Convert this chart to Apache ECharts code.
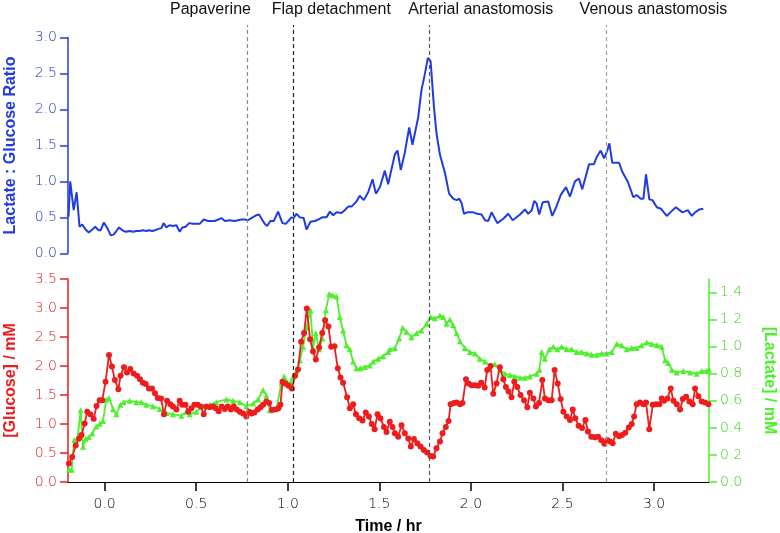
<!DOCTYPE html>
<html>
<head>
<meta charset="utf-8">
<script src="https://cdn.jsdelivr.net/npm/echarts@6/dist/echarts.min.js"></script>
<style>html,body{margin:0;padding:0;background:#fff}#c{width:780px;height:533px}</style>
</head>
<body>
<div id="c"></div>
<script>
// ---- data (time in hours) ----
const ratioTime = [-0.197,-0.188,-0.169,-0.153,-0.137,-0.122,-0.104,-0.087,-0.067,-0.051,-0.033,-0.022,-0.004,0.015,0.033,0.049,0.064,0.078,0.097,0.115,0.137,0.155,0.173,0.191,0.209,0.228,0.242,0.260,0.275,0.293,0.310,0.322,0.337,0.355,0.373,0.392,0.410,0.424,0.443,0.461,0.483,0.519,0.541,0.565,0.601,0.638,0.656,0.683,0.710,0.747,0.765,0.783,0.801,0.829,0.843,0.862,0.874,0.887,0.905,0.924,0.947,0.971,0.989,1.007,1.020,1.033,1.047,1.066,1.087,1.102,1.124,1.148,1.166,1.188,1.211,1.230,1.248,1.266,1.293,1.311,1.330,1.348,1.375,1.393,1.415,1.439,1.463,1.481,1.503,1.530,1.548,1.585,1.599,1.617,1.639,1.663,1.681,1.712,1.730,1.749,1.765,1.780,1.798,1.812,1.831,1.858,1.881,1.903,1.922,1.936,1.949,1.962,1.980,2.013,2.034,2.058,2.077,2.095,2.113,2.144,2.177,2.204,2.228,2.268,2.295,2.313,2.332,2.346,2.359,2.373,2.392,2.422,2.444,2.464,2.490,2.519,2.541,2.568,2.590,2.608,2.645,2.672,2.687,2.709,2.727,2.742,2.756,2.772,2.809,2.827,2.856,2.887,2.905,2.927,2.942,2.956,2.974,2.991,3.015,3.037,3.069,3.093,3.119,3.155,3.184,3.206,3.224,3.248,3.269];
const ratioValue = [0.51,1.00,0.60,0.85,0.37,0.40,0.33,0.29,0.33,0.37,0.32,0.32,0.43,0.35,0.25,0.26,0.31,0.36,0.32,0.30,0.31,0.30,0.31,0.31,0.32,0.31,0.32,0.31,0.32,0.34,0.35,0.42,0.36,0.39,0.38,0.39,0.30,0.36,0.37,0.42,0.41,0.41,0.47,0.45,0.45,0.49,0.45,0.46,0.45,0.47,0.47,0.46,0.49,0.53,0.54,0.46,0.41,0.38,0.45,0.45,0.58,0.42,0.41,0.46,0.50,0.49,0.55,0.50,0.49,0.33,0.44,0.45,0.47,0.50,0.50,0.58,0.53,0.57,0.56,0.60,0.65,0.65,0.72,0.80,0.74,0.85,1.03,0.83,0.92,1.15,0.96,1.38,1.43,1.16,1.40,1.75,1.51,1.89,2.27,2.50,2.72,2.67,2.04,1.67,1.37,1.12,0.83,0.76,0.74,0.76,0.70,0.55,0.57,0.57,0.55,0.54,0.46,0.45,0.57,0.42,0.48,0.55,0.46,0.54,0.61,0.55,0.60,0.73,0.69,0.54,0.71,0.72,0.52,0.63,0.81,0.92,0.79,1.00,1.04,0.89,1.24,1.24,1.34,1.43,1.32,1.41,1.53,1.26,1.26,1.13,1.00,0.78,0.81,0.76,0.76,1.10,0.75,0.74,0.64,0.62,0.52,0.58,0.64,0.57,0.60,0.52,0.57,0.61,0.62];

const glucoseTime = [-0.195,-0.177,-0.158,-0.140,-0.126,-0.109,-0.095,-0.078,-0.060,-0.044,-0.027,-0.013,0.005,0.024,0.040,0.056,0.075,0.087,0.106,0.122,0.140,0.158,0.177,0.193,0.209,0.224,0.242,0.259,0.275,0.290,0.308,0.324,0.341,0.359,0.373,0.392,0.410,0.424,0.441,0.457,0.474,0.490,0.508,0.525,0.541,0.556,0.574,0.592,0.607,0.623,0.639,0.656,0.672,0.689,0.705,0.721,0.738,0.756,0.774,0.789,0.803,0.818,0.836,0.851,0.865,0.883,0.898,0.913,0.931,0.949,0.960,0.971,0.987,1.004,1.022,1.040,1.056,1.073,1.089,1.104,1.122,1.138,1.153,1.171,1.188,1.204,1.222,1.237,1.255,1.273,1.288,1.302,1.324,1.339,1.357,1.372,1.390,1.408,1.426,1.443,1.459,1.474,1.490,1.506,1.525,1.539,1.557,1.572,1.585,1.603,1.621,1.639,1.658,1.672,1.689,1.707,1.725,1.743,1.761,1.780,1.794,1.812,1.831,1.845,1.863,1.878,1.889,1.907,1.922,1.940,1.954,1.973,1.987,2.004,2.022,2.040,2.056,2.075,2.089,2.107,2.122,2.140,2.158,2.177,2.191,2.206,2.222,2.237,2.253,2.271,2.290,2.308,2.322,2.341,2.355,2.372,2.390,2.404,2.423,2.441,2.457,2.474,2.490,2.505,2.523,2.541,2.556,2.570,2.588,2.607,2.625,2.639,2.657,2.676,2.694,2.712,2.729,2.745,2.760,2.774,2.791,2.809,2.825,2.843,2.862,2.878,2.891,2.905,2.923,2.942,2.956,2.974,2.993,3.011,3.029,3.042,3.055,3.073,3.091,3.106,3.124,3.142,3.157,3.175,3.193,3.211,3.224,3.242,3.260,3.279,3.297];
const glucoseValue = [0.32,0.43,0.63,0.75,0.81,1.01,1.21,1.17,1.09,1.31,1.41,1.41,1.73,2.19,1.99,1.76,1.60,1.83,1.98,1.89,1.95,1.87,1.83,1.77,1.71,1.69,1.61,1.61,1.53,1.45,1.44,1.17,1.40,1.34,1.30,1.25,1.40,1.33,1.33,1.21,1.27,1.33,1.33,1.30,1.17,1.30,1.29,1.30,1.27,1.22,1.30,1.26,1.30,1.25,1.30,1.25,1.21,1.18,1.13,1.21,1.18,1.20,1.25,1.29,1.33,1.39,1.36,1.24,1.25,1.27,1.33,1.73,1.70,1.66,1.61,1.83,1.94,2.42,2.57,2.99,2.46,2.25,2.11,2.32,2.57,2.79,2.68,2.33,2.34,1.96,1.80,1.71,1.46,1.27,1.34,1.17,1.10,1.06,1.20,1.13,1.00,0.91,1.17,1.10,0.95,0.86,1.04,0.95,0.84,0.78,0.98,0.84,0.75,0.61,0.74,0.67,0.61,0.55,0.51,0.45,0.44,0.58,0.70,0.84,0.95,1.05,1.34,1.36,1.37,1.34,1.36,1.77,1.70,1.67,1.67,1.66,1.71,1.63,1.93,2.00,1.52,1.70,1.98,1.77,1.64,1.56,1.46,1.73,1.64,1.50,1.41,1.29,1.54,1.44,1.30,1.36,1.76,1.44,1.41,1.41,1.93,1.70,1.43,1.21,1.13,1.07,1.25,1.10,0.97,0.93,1.07,0.87,0.78,0.77,0.78,0.72,0.66,0.72,0.70,0.67,0.83,0.79,0.81,0.85,0.94,1.00,1.13,1.34,1.37,1.34,1.37,0.91,1.33,1.34,1.34,1.44,1.40,1.44,1.61,1.40,1.34,1.25,1.43,1.47,1.39,1.34,1.61,1.48,1.39,1.37,1.34];

const lactateTime = [-0.195,-0.180,-0.166,-0.148,-0.131,-0.118,-0.104,-0.086,-0.067,-0.046,-0.027,-0.009,0.009,0.024,0.046,0.064,0.086,0.104,0.137,0.173,0.200,0.228,0.264,0.301,0.337,0.373,0.419,0.446,0.464,0.501,0.537,0.574,0.610,0.665,0.701,0.738,0.774,0.811,0.838,0.865,0.883,0.902,0.938,0.965,0.980,0.996,1.015,1.029,1.047,1.066,1.084,1.102,1.124,1.138,1.153,1.171,1.189,1.208,1.226,1.244,1.266,1.284,1.302,1.321,1.339,1.357,1.375,1.397,1.421,1.448,1.466,1.494,1.521,1.548,1.557,1.585,1.608,1.627,1.648,1.676,1.703,1.730,1.758,1.780,1.803,1.831,1.849,1.867,1.885,1.903,1.922,1.940,1.967,1.995,2.022,2.049,2.077,2.104,2.131,2.158,2.186,2.213,2.240,2.268,2.295,2.322,2.359,2.374,2.386,2.404,2.428,2.450,2.472,2.495,2.523,2.550,2.577,2.605,2.632,2.659,2.687,2.714,2.741,2.769,2.796,2.823,2.851,2.878,2.905,2.932,2.960,2.987,3.015,3.042,3.060,3.078,3.097,3.124,3.160,3.197,3.233,3.260,3.288,3.300];
const lactateValue = [0.09,0.09,0.31,0.32,0.53,0.26,0.32,0.33,0.36,0.41,0.43,0.45,0.61,0.62,0.54,0.50,0.57,0.59,0.60,0.59,0.59,0.57,0.56,0.54,0.51,0.50,0.49,0.52,0.50,0.52,0.56,0.57,0.59,0.61,0.60,0.59,0.56,0.58,0.61,0.68,0.64,0.53,0.54,0.73,0.78,0.74,0.73,0.78,0.82,0.90,1.00,1.14,1.27,0.99,1.10,0.98,1.06,1.27,1.39,1.38,1.37,1.22,1.12,1.01,0.98,0.89,0.84,0.84,0.85,0.86,0.89,0.91,0.93,0.96,0.98,0.99,1.06,1.14,1.11,1.07,1.10,1.12,1.17,1.22,1.21,1.23,1.22,1.17,1.20,1.16,1.10,1.04,0.99,0.96,0.95,0.91,0.89,0.86,0.87,0.83,0.80,0.79,0.78,0.77,0.77,0.78,0.80,0.83,0.96,0.91,0.98,1.00,0.98,1.00,0.98,0.98,0.96,0.96,0.95,0.94,0.94,0.95,0.95,0.96,1.02,1.01,0.98,0.99,0.99,1.01,1.03,1.02,1.01,1.00,0.90,0.88,0.83,0.81,0.82,0.81,0.80,0.82,0.82,0.83];

const eventTimes = [0.776, 1.034, 1.768, 2.738];
const eventLabels = ['Papaverine', 'Flap detachment', 'Arterial anastomosis', 'Venous anastomosis'];
const eventColors = ['#888888', '#222222', '#555555', '#a0a0a0'];
const eventLabelShift = [-37, 38, 52, 47];

const xTicks = [0, 0.5, 1, 1.5, 2, 2.5, 3];
const lactateTicks = [0, 0.2, 0.4, 0.6, 0.8, 1.0, 1.2, 1.4];

// ---- chart ----
const BLUE = '#1f3be3', BLUE_T = '#1a30cc';
const RED = '#ee1c1c', RED_T = '#d81c1c';
const GREEN = '#4cf02c', GREEN_T = '#3cd022';
const tickFont = {fontFamily: 'DejaVu Sans', fontSize: 14, fontWeight: 200};
const nameFont = {fontFamily: 'Liberation Sans', fontSize: 16, fontWeight: 'bold'};
const zip = (a, b) => a.map((t, i) => [t, b[i]]);
const fmt1 = v => v.toFixed(1);

const chart = echarts.init(document.getElementById('c'), null, {renderer: 'canvas'});
chart.setOption({
  animation: false,
  backgroundColor: '#fff',
  grid: [
    {left: 68, right: 71, top: 37.7, height: 215.6, outerBoundsMode: 'none', containLabel: false},
    {left: 68, right: 71, top: 279, height: 203, outerBoundsMode: 'none', containLabel: false},
    {left: 68, right: 71, top: 25, height: 457, outerBoundsMode: 'none', containLabel: false}
  ],
  xAxis: [
    {gridIndex: 0, type: 'value', min: -0.2, max: 3.3, show: false},
    {gridIndex: 1, type: 'value', min: -0.2, max: 3.3,
     axisLine: {onZero: false, lineStyle: {color: '#000', width: 1}},
     axisTick: {customValues: xTicks, length: 9, lineStyle: {color: '#000', width: 1.5}},
     axisLabel: Object.assign({customValues: xTicks, formatter: fmt1, color: '#000', margin: 15}, tickFont),
     splitLine: {show: false},
     name: 'Time / hr', nameLocation: 'middle', nameGap: 37,
     nameTextStyle: Object.assign({color: '#000'}, nameFont)},
    {gridIndex: 2, type: 'value', min: -0.2, max: 3.3, show: false}
  ],
  yAxis: [
    {gridIndex: 0, type: 'value', min: 0, max: 3, interval: 0.5,
     axisLine: {show: true, onZero: false, lineStyle: {color: BLUE, width: 1.5}},
     axisTick: {show: true, length: 8, lineStyle: {color: BLUE, width: 1.5}},
     axisLabel: Object.assign({formatter: fmt1, color: BLUE_T, margin: 11}, tickFont),
     splitLine: {show: false},
     name: 'Lactate : Glucose Ratio', nameLocation: 'middle', nameGap: 49,
     nameTextStyle: Object.assign({color: BLUE}, nameFont)},
    {gridIndex: 1, type: 'value', min: 0, max: 3.5, interval: 0.5,
     axisLine: {show: true, onZero: false, lineStyle: {color: RED, width: 1.5}},
     axisTick: {show: true, length: 8, lineStyle: {color: RED, width: 1.5}},
     axisLabel: Object.assign({formatter: fmt1, color: RED_T, margin: 11}, tickFont),
     splitLine: {show: false},
     name: '[Glucose] / mM', nameLocation: 'middle', nameGap: 49,
     nameTextStyle: Object.assign({color: RED}, nameFont)},
    {gridIndex: 1, type: 'value', min: 0, max: 1.5, position: 'right',
     axisLine: {show: true, onZero: false, lineStyle: {color: GREEN, width: 1.5}},
     axisTick: {show: true, customValues: lactateTicks, length: 8, lineStyle: {color: GREEN, width: 1.5}},
     axisLabel: Object.assign({customValues: lactateTicks, formatter: fmt1, color: GREEN_T, margin: 11}, tickFont),
     splitLine: {show: false},
     name: '[Lactate] / mM', nameLocation: 'middle', nameGap: 52, nameRotate: -90,
     nameTextStyle: Object.assign({color: GREEN}, nameFont)},
    {gridIndex: 2, type: 'value', min: 0, max: 1, show: false}
  ],
  series: [
    {type: 'line', xAxisIndex: 2, yAxisIndex: 3, silent: true,
     data: eventTimes.map(t => [t, 0]), showSymbol: false, symbol: 'none',
     lineStyle: {width: 0, opacity: 0},
     markLine: {
       silent: true, symbol: ['none', 'none'], animation: false,
       data: eventTimes.map((t, i) => ({
         xAxis: t,
         lineStyle: {color: eventColors[i], type: [4, 3], width: 1.2},
         label: {show: true, position: 'end', formatter: eventLabels[i],
                 color: '#111', fontFamily: 'Liberation Sans', fontSize: 16,
                 offset: [eventLabelShift[i], -2]}
       }))
     }},
    {type: 'line', xAxisIndex: 0, yAxisIndex: 0, data: zip(ratioTime, ratioValue),
     showSymbol: false, symbol: 'none', lineStyle: {color: BLUE, width: 2}, z: 3},
    {type: 'line', xAxisIndex: 1, yAxisIndex: 2, data: zip(lactateTime, lactateValue),
     symbol: 'triangle', symbolSize: 6, itemStyle: {color: GREEN},
     lineStyle: {color: GREEN, width: 1.8}, z: 3},
    {type: 'line', xAxisIndex: 1, yAxisIndex: 1, data: zip(glucoseTime, glucoseValue),
     symbol: 'circle', symbolSize: 6, itemStyle: {color: RED},
     lineStyle: {color: RED, width: 1.8}, z: 4}
  ]
});
</script>
</body>
</html>
